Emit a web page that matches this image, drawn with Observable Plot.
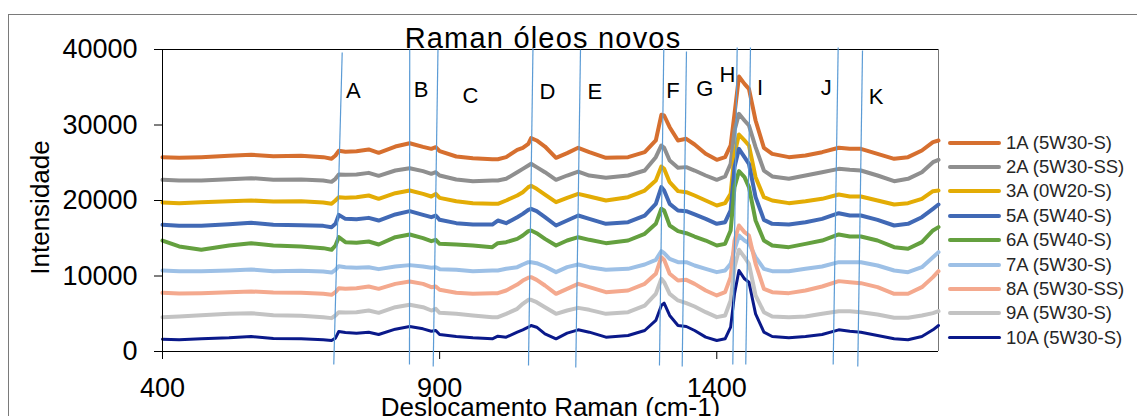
<!DOCTYPE html>
<html><head><meta charset="utf-8">
<script src="https://cdn.jsdelivr.net/npm/d3@7"></script>
<script src="https://cdn.jsdelivr.net/npm/@observablehq/plot@0.6"></script>
<style>
html,body{margin:0;padding:0;background:#fff;overflow:hidden;}
#wrap{position:relative;width:1137px;height:416px;overflow:hidden;font-family:"Liberation Sans",Arial,sans-serif;background:#fff;}
#wrap svg{position:absolute;left:0;top:0;}
#border{position:absolute;left:8px;top:14px;width:1400px;height:700px;border:1px solid #7a7a7a;box-sizing:border-box;pointer-events:none;}
#title{position:absolute;left:0;width:1086px;text-align:center;top:23.5px;font-size:29px;line-height:29px;letter-spacing:1.2px;color:#000;white-space:nowrap;}
#legend{position:absolute;left:948px;top:130.5px;}
.row{display:flex;align-items:center;height:24.4px;}
.sw{width:53px;border-radius:2px;margin-right:5px;}
.lab{font-size:18.5px;color:#262626;white-space:nowrap;}
</style></head>
<body>
<div id="wrap"></div>
<script>
// ---- data ----
const seriesNames = ["1A (5W30-S)","2A (5W30-SS)","3A (0W20-S)","5A (5W40-S)","6A (5W40-S)","7A (5W30-S)","8A (5W30-SS)","9A (5W30-S)","10A (5W30-S)"];
const wavenumbers = [400,430,470,520,560,600,650,690,705,712,718,730,750,772,790,820,846,870,885,893,900,930,960,995,1005,1020,1040,1050,1060,1065,1075,1090,1110,1130,1150,1170,1200,1240,1270,1290,1300,1305,1315,1330,1345,1360,1380,1400,1415,1425,1432,1440,1450,1458,1470,1485,1500,1530,1560,1590,1620,1640,1660,1690,1720,1745,1770,1790,1800];
const s1A = [25740,25650,25740,25920,26050,25870,25920,25740,25520,25960,26580,26450,26530,26760,26310,27150,27590,27110,26840,27060,26530,25830,25610,25470,25470,25740,26710,26980,27510,28260,27950,27150,25650,26270,26980,26400,25650,25740,26400,27950,31350,31260,29710,27950,28170,27420,26180,25390,25740,27290,31480,36420,35450,34790,30600,26980,26180,25740,25960,26400,26980,26840,26840,26180,25520,25740,26620,27730,27950];
const s2A = [22740,22650,22650,22830,22960,22740,22780,22650,22470,22870,23440,23400,23440,23660,23270,23970,24280,23890,23530,23750,23310,22780,22560,22650,22650,22870,23750,24190,24640,24860,24420,23750,22740,23310,23840,23310,23000,23310,23970,25740,27290,26980,25300,24330,24420,23970,23310,22740,23180,24860,29270,31480,30600,29930,27060,23970,23180,22870,23310,23750,24190,24060,23970,23310,22560,22870,23750,25080,25390];
const s3A = [19740,19650,19780,19910,20000,19870,19910,19740,19560,20000,20440,20350,20440,20660,20220,20970,21320,20880,20530,20880,20350,19910,19650,19560,19560,20000,20660,21100,21770,21940,21550,20790,19780,20350,20880,20530,20000,20440,21320,22650,24500,24190,22430,21240,21100,20660,20000,19340,19650,20880,26180,28740,27950,27290,23090,20440,20000,19650,19910,20220,20790,20530,20530,20000,19470,19650,20220,21240,21320];
const s5A = [16780,16640,16640,16870,17040,16780,16730,16640,16470,16910,18100,17570,17530,17700,17350,18150,18590,18100,17790,18010,17440,17000,16820,16820,17350,17000,17790,18230,18760,18900,18590,17790,16690,17350,18010,17570,16910,17130,18010,19560,21770,21320,19560,18680,18590,18150,17570,16910,17130,18680,24420,26840,25740,24860,20440,17440,16910,16820,17130,17570,18320,18010,18010,17440,16690,16910,17790,18900,19470];
const s6A = [14700,13910,13470,14040,14350,14040,13910,13690,13470,14040,15140,14480,14390,14570,14170,15140,15500,15010,14610,14790,14260,14170,14040,13820,14350,14480,14920,15360,15940,16030,15670,14920,14040,14700,15140,14790,14350,14700,15590,16910,18900,18680,16690,15940,15670,15230,14700,14040,14260,16030,21770,23890,23090,21770,17350,14700,14040,13820,14260,14700,15500,15230,15230,14700,13820,13600,14480,16030,16470];
const s7A = [10730,10640,10640,10730,10860,10640,10680,10600,10460,10820,11300,11170,11080,11170,10910,11260,11440,11260,11080,11170,10910,10820,10640,10730,10730,10950,11170,11520,11830,11830,11700,11260,10510,11170,11520,11170,10820,10950,11520,12140,13290,13020,12270,11830,11830,11390,10950,10510,10730,11610,13500,15360,14700,14350,12490,10950,10640,10640,10950,11260,11830,11830,11830,11390,10730,10510,11170,12490,13160];
const s8A = [7770,7680,7730,7860,7950,7810,7770,7640,7510,7860,8390,8300,8390,8610,8300,8960,9270,8960,8520,8610,8170,7770,7640,7730,7730,8080,8870,9400,9760,9850,9490,8740,7640,8300,8960,8520,7860,8080,8960,10290,12490,12140,10290,9400,9490,8960,8080,7420,7860,9850,14700,16690,15810,15360,11610,8300,7860,7730,8080,8610,9320,9180,9050,8520,7640,7640,8520,9850,10640];
const s9A = [4550,4640,4810,4990,5080,4810,4720,4550,4420,4770,5210,5170,5210,5430,5120,5870,6180,5870,5430,5650,5120,4990,4770,4550,4550,4990,5650,6310,6840,6840,6530,5870,4990,5430,5780,5520,4990,5210,6090,7640,9630,9180,7640,6760,6400,5960,5210,4550,4770,6760,11170,13470,12490,11610,7420,5210,4640,4550,4640,4990,5340,5340,5210,4900,4460,4460,4770,5080,5340];
const s10A = [1630,1550,1680,1810,1990,1720,1680,1550,1460,1770,2650,2520,2430,2560,2250,2960,3310,3000,2690,2780,2250,1990,1810,1680,2030,1900,2560,2870,3220,3440,3220,2340,1680,2430,2870,2560,1900,2120,2780,4110,6090,6400,4770,3440,3310,2780,1900,1460,1680,3220,7640,10730,9630,9180,4990,2560,1990,1810,1990,2250,2870,2690,2560,2120,1680,1550,1990,2870,3440];
const seriesValues = [s1A,s2A,s3A,s5A,s6A,s7A,s8A,s9A,s10A];

const xTicks = [400,900,1400];
const yTicks = [0,10000,20000,30000,40000];

// peak marker lines (wavenumber at top / bottom, intensity at top / bottom)
const markerTopX = [724.2,846.0,897.0,1068.4,1154.1,1304.4,1345.3,1436.8,1460.8,1619.0,1662.9];
const markerBottomX = [709.0,845.6,888.4,1060.3,1145.6,1296.6,1337.6,1428.9,1452.3,1610.0,1654.4];
const markerTopY = [39600,40000,40000,40260,40000,40130,39740,40260,40260,40260,39870];
const markerBottomY = [-1720,-1720,-1990,-1850,-2120,-1850,-1990,-1720,-1720,-1720,-1990];

const peakLabels = ["A","B","C","D","E","F","G","H","I","J","K"];
const peakLabelX = [744.2,866.7,955.7,1094.6,1179.9,1321.0,1378.4,1419.3,1478.0,1597.6,1687.3];
const peakLabelY = [34570,34700,33800,34340,34440,34460,34800,36660,34900,34900,33680];

const titleText = "Raman óleos novos";
const xLabel = "Deslocamento Raman (cm-1)";
const yLabel = "Intensidade";

// ---- styles ----
const colors = ["#D66F2F","#8F8F8F","#E3AC05","#4169B5","#64A03F","#9DC0E6","#F4A98E","#C3C3C3","#0A198A"];
const widths = [4,4,4,4,4,4,4,4,3];

// ---- build ----
const lineMarks = seriesValues.map((vals, i) => {
  const rows = wavenumbers.map((w, j) => ({wn: w, v: vals[j]}));
  return Plot.line(rows, {x: "wn", y: "v", stroke: colors[i], strokeWidth: widths[i], strokeLinejoin: "round", strokeLinecap: "round"});
});

const markers = markerTopX.map((t, i) => ({x1: t, x2: markerBottomX[i], y1: markerTopY[i], y2: markerBottomY[i]}));
const labels = peakLabels.map((l, i) => ({l, x: peakLabelX[i], y: peakLabelY[i]}));

const chart = Plot.plot({
  width: 1137, height: 416,
  marginLeft: 162, marginRight: 199, marginTop: 49, marginBottom: 65,
  style: {fontFamily: "'Liberation Sans', Arial, sans-serif", fontSize: "27px", background: "transparent", color: "#000", overflow: "visible"},
  x: {domain: [400, 1800]},
  y: {domain: [0, 40000]},
  marks: [
    Plot.axisY({ticks: yTicks, tickSize: 8, tickPadding: 17, label: null, tickFormat: d => String(d), stroke: "#000"}),
    Plot.axisX({ticks: xTicks, tickSize: 8, tickPadding: 18, label: null, tickFormat: d => String(d), stroke: "#000"}),
    Plot.ruleX([1800], {stroke: "#777"}),
    Plot.ruleY([40000], {stroke: "#000"}),
    ...lineMarks,
    Plot.ruleY([0], {stroke: "#000"}),
    Plot.ruleX([400], {stroke: "#000"}),
    Plot.link(markers, {x1: "x1", y1: "y1", x2: "x2", y2: "y2", stroke: "#5B9BD5", strokeWidth: 1.2}),
    Plot.text(labels, {x: "x", y: "y", text: "l", fontSize: 22, fill: "#000", textAnchor: "middle"}),
    Plot.text([yLabel], {frameAnchor: "left", rotate: -90, dx: -122, dy: 7, fontSize: 26, textAnchor: "middle", fill: "#000"}),
    Plot.text([xLabel], {frameAnchor: "bottom", dy: 64, lineAnchor: "bottom", fontSize: 26, textAnchor: "middle", fill: "#000"})
  ]
});

const wrap = document.getElementById("wrap");
wrap.appendChild(chart);

const title = document.createElement("div");
title.id = "title";
title.textContent = titleText;
wrap.appendChild(title);

const legend = document.createElement("div");
legend.id = "legend";
seriesNames.forEach((n, i) => {
  const row = document.createElement("div");
  row.className = "row";
  const sw = document.createElement("div");
  sw.className = "sw";
  sw.style.background = colors[i];
  sw.style.height = widths[i] + "px";
  const lab = document.createElement("div");
  lab.className = "lab";
  lab.textContent = n;
  row.appendChild(sw); row.appendChild(lab);
  legend.appendChild(row);
});
wrap.appendChild(legend);

const border = document.createElement("div");
border.id = "border";
wrap.appendChild(border);
</script>
</body></html>
